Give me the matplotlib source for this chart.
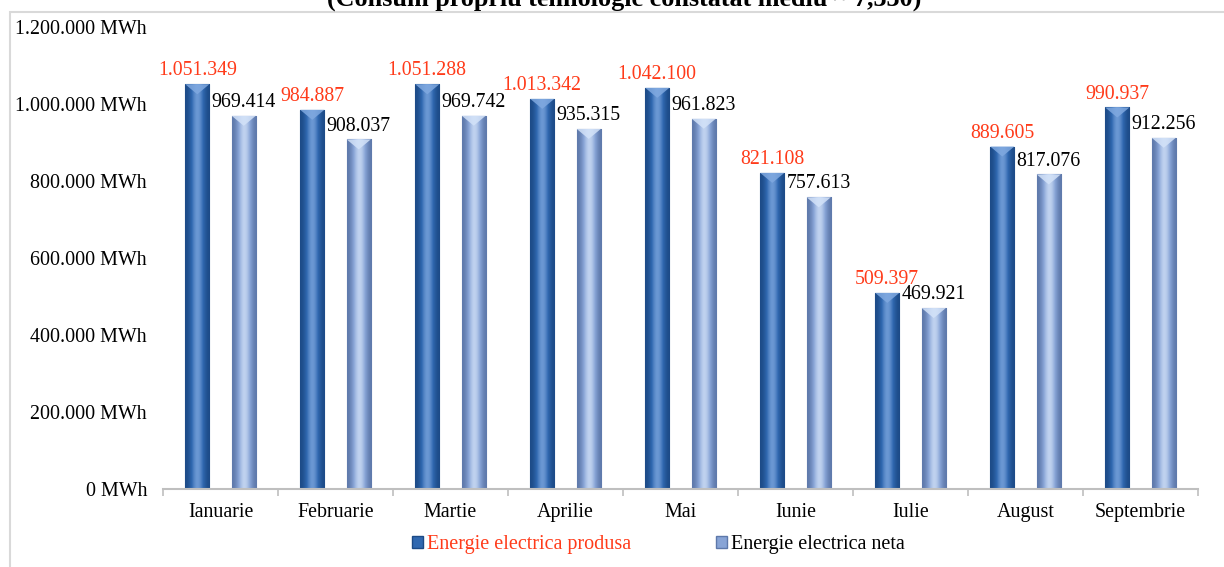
import numpy as np
import matplotlib
matplotlib.use("Agg")
import matplotlib.pyplot as plt
from matplotlib.patches import Rectangle, Polygon
from matplotlib.ticker import FuncFormatter

luni = ['Ianuarie', 'Februarie', 'Martie', 'Aprilie', 'Mai', 'Iunie', 'Iulie',
        'August', 'Septembrie']
produsa = [1051349, 984887, 1051288, 1013342, 1042100, 821108, 509397, 889605, 990937]
neta = [969414, 908037, 969742, 935315, 961823, 757613, 469921, 817076, 912256]

def fmt(v):
    return f"{v:,.0f}".replace(",", ".")

plt.rcParams['font.family'] = ['Liberation Serif', 'DejaVu Serif']

fig = plt.figure(figsize=(12.24, 5.67), dpi=100)
ax = fig.add_axes([163 / 1224, 1 - 489 / 567, 1035 / 1224, 462 / 567])

x = np.arange(len(luni))
w = 0.21
off = 0.202
cap = 26000  # height of the bevel on top of each bar

def draw_bars(xs, vals, face, light, dark):
    cmap = matplotlib.colors.LinearSegmentedColormap.from_list('g', [dark, face, light])
    for xi, v in zip(xs, vals):
        r = Rectangle((xi - w / 2, 0), w, v, facecolor=face, edgecolor=dark,
                      linewidth=0.8, zorder=2)
        ax.add_patch(r)
        # horizontal gradient clipped to the bar
        grad = np.array([[0.0, 0.6, 1.0, 0.6, 0.0]])
        im = ax.imshow(grad, cmap=cmap, aspect='auto',
                       extent=(xi - w / 2, xi + w / 2, 0, v), zorder=2.1,
                       interpolation='bicubic')
        im.set_clip_path(r)
        tri = Polygon([(xi - w / 2, v), (xi + w / 2, v), (xi, v - cap)],
                      closed=True, facecolor=light, edgecolor='none', zorder=2.2, alpha=0.85)
        ax.add_patch(tri)

draw_bars(x - off, produsa, '#3068B0', '#80A9E0', '#1C4A86')
draw_bars(x + off, neta, '#88A4D6', '#D3E2F8', '#5D78AA')

# legend proxies
ax.bar([0], [0], color='#3068B0', edgecolor='#1C4A86', label='Energie electrica produsa')
ax.bar([0], [0], color='#88A4D6', edgecolor='#5D78AA', label='Energie electrica neta')

for xi, v in zip(x - off, produsa):
    ax.text(xi, v + 10000, fmt(v), ha='center', va='bottom', fontsize=14.3,
            color='#FF3B1A', zorder=5)
for xi, v in zip(x + off, neta):
    ax.text(xi, v + 10000, fmt(v), ha='center', va='bottom', fontsize=14.3,
            color='black', zorder=5)

ax.set_xlim(-0.5, len(luni) - 0.5)
ax.set_ylim(0, 1200000)
ax.set_yticks(np.arange(0, 1200001, 200000))
ax.yaxis.set_major_formatter(FuncFormatter(lambda v, p: fmt(v) + ' MWh'))
ax.set_xticks(x)
ax.set_xticklabels(luni)
ax.set_xticks(np.arange(-0.5, len(luni), 1), minor=True)
ax.tick_params(axis='y', length=0, pad=11.5, labelsize=14.4)
ax.tick_params(axis='x', which='major', length=0, pad=10, labelsize=14.4)
ax.tick_params(axis='x', which='minor', length=5, color='#BFBFBF', width=1.2)

for s in ['top', 'right', 'left']:
    ax.spines[s].set_visible(False)
ax.spines['bottom'].set_color('#BFBFBF')
ax.spines['bottom'].set_linewidth(1.5)

leg = fig.legend(loc='center', bbox_to_anchor=(0.538, 1 - 545 / 567), ncol=2,
                 frameon=False, fontsize=14.5, handlelength=0.55, handleheight=0.55,
                 handletextpad=0.2, columnspacing=4.2)
leg.get_texts()[0].set_color('#FF3B1A')

# outer chart frame
fig.patches.append(Rectangle((10 / 1224, -0.1), 1.2, 1.1 - 12 / 567, transform=fig.transFigure,
                             fill=False, edgecolor='#D9D9D9', linewidth=1.5, zorder=0))

# title, cut off at the top of the picture
fig.text(0.51, 1 - 6 / 567, '(Consum propriu tehnologic constatat mediu ~ 7,330)',
         ha='center', va='baseline', fontsize=18.8, fontweight='bold')

fig.savefig('out.png', dpi=100)
